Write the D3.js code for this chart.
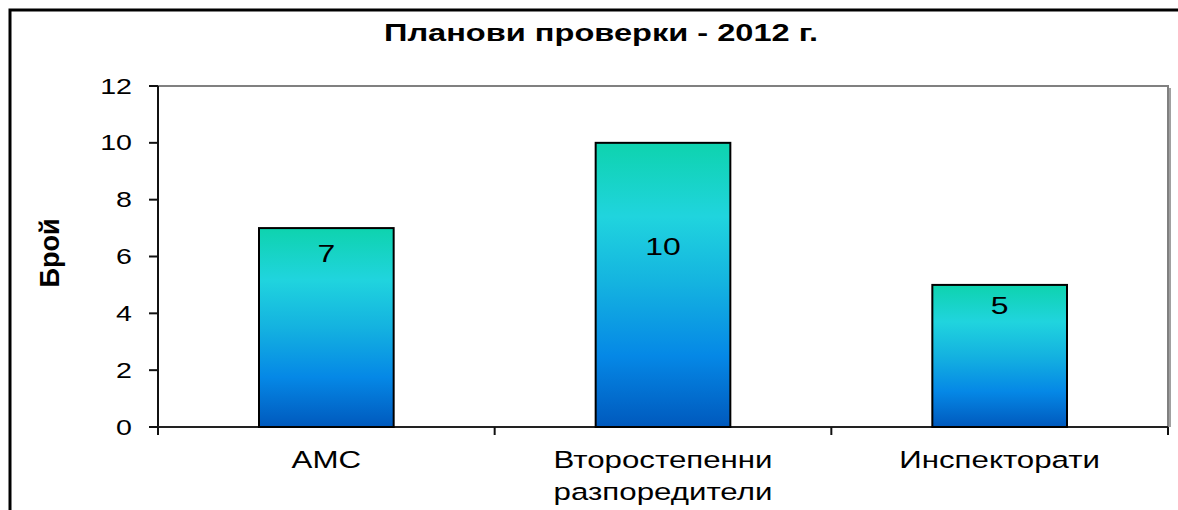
<!DOCTYPE html>
<html>
<head>
  <meta charset="UTF-8">
  <title>Планови проверки - 2012 г.</title>
  <script src="https://d3js.org/d3.v7.min.js"></script>
  <style>
    body { margin: 0; background: #fff; }
    svg { display: block; font-family: "Liberation Sans", Arial, sans-serif; }
  </style>
</head>
<body>
    <svg></svg>

    <script>
        // chart data
        const title = "Планови проверки - 2012 г.";
        const yTitle = "Брой";
        const categories = ["AMC", "Второстепенни разпоредители", "Инспекторати"];
        const categoryLines = [["АМС"], ["Второстепенни", "разпоредители"], ["Инспекторати"]];
        const values = [7, 10, 5];
        // where Excel left each value label, in axis units
        const labelLevels = [6.12, 6.37, 4.31];
        const yTicks = [0, 2, 4, 6, 8, 10, 12];

        let width = 1178, height = 510;
        let svg = d3.select("svg")
            .attr("width", width)
            .attr("height", height);

        let plot = {left: 158, right: 1168, top: 86, bottom: 427};
        const sx = 1.33; // the original is stretched sideways

        let defs = svg.append("defs");
        let grad = defs.append("linearGradient")
            .attr("id", "barFill")
            .attr("x1", 0).attr("y1", 0).attr("x2", 0).attr("y2", 1);
        [[0, "#0ed3ae"], [0.26, "#20d4de"], [0.5, "#14b2e0"], [0.75, "#0588e6"], [1, "#0059bd"]]
            .forEach(s => grad.append("stop").attr("offset", s[0]).attr("stop-color", s[1]));

        // outer frame
        svg.append("path")
            .attr("d", "M10," + height + "V10H" + width)
            .attr("fill", "none").attr("stroke", "#000").attr("stroke-width", 3);

        let x = d3.scaleBand()
            .domain(categories)
            .range([plot.left, plot.right])
            .paddingInner(0.6)
            .paddingOuter(0.3);

        let y = d3.scaleLinear()
            .domain([0, 12])
            .range([plot.bottom, plot.top]);

        // plot area border (top & right gray)
        svg.append("path")
            .attr("d", "M" + plot.left + "," + plot.top + "H" + plot.right + "V" + plot.bottom)
            .attr("fill", "none").attr("stroke", "#808080").attr("stroke-width", 2);
        svg.append("line")
            .attr("x1", plot.right + 2).attr("x2", plot.right + 2)
            .attr("y1", plot.top + 2).attr("y2", plot.bottom)
            .attr("stroke", "#a0a0a0").attr("stroke-width", 2);

        function stretched(sel, px, py) {
            return sel.attr("transform", "translate(" + px + "," + py + ") scale(" + sx + ",1)");
        }

        // y axis
        let yAxis = svg.append("g");
        yAxis.append("line")
            .attr("x1", plot.left).attr("x2", plot.left)
            .attr("y1", plot.top).attr("y2", plot.bottom + 8)
            .attr("stroke", "#111").attr("stroke-width", 2);
        yAxis.selectAll(".tick")
            .data(yTicks)
            .enter()
            .append("line")
            .attr("x1", plot.left - 9).attr("x2", plot.left)
            .attr("y1", d => y(d)).attr("y2", d => y(d))
            .attr("stroke", "#111").attr("stroke-width", 2);
        yAxis.selectAll("text")
            .data(yTicks)
            .enter()
            .append("text")
            .each(function(d) { stretched(d3.select(this), 132, y(d) + 7.5); })
            .attr("text-anchor", "end")
            .style("font-size", "21.5px")
            .text(d => d);

        // x axis
        let xAxis = svg.append("g");
        xAxis.append("line")
            .attr("x1", plot.left).attr("x2", plot.right)
            .attr("y1", plot.bottom).attr("y2", plot.bottom)
            .attr("stroke", "#222").attr("stroke-width", 2);
        let bounds = categories.map(c => x(c) - x.step() * x.paddingInner() / 2);
        bounds.push(plot.right);
        xAxis.selectAll(".tick")
            .data(bounds)
            .enter()
            .append("line")
            .attr("x1", d => d).attr("x2", d => d)
            .attr("y1", plot.bottom).attr("y2", plot.bottom + 8)
            .attr("stroke", "#111").attr("stroke-width", 2);

        let catLabel = xAxis.selectAll(".cat")
            .data(categories)
            .enter()
            .append("text")
            .attr("class", "cat")
            .each(function(d) { stretched(d3.select(this), x(d) + x.bandwidth() / 2, 0); })
            .attr("text-anchor", "middle")
            .style("font-size", "23.5px");
        catLabel.selectAll("tspan")
            .data((d, i) => categoryLines[i])
            .enter()
            .append("tspan")
            .attr("x", 0)
            .attr("y", (d, i) => 468 + i * 32)
            .text(d => d);

        // bars
        svg.append("g")
            .selectAll("rect")
            .data(values)
            .enter()
            .append("rect")
            .attr("x", (d, i) => x(categories[i]))
            .attr("y", d => y(d))
            .attr("width", x.bandwidth())
            .attr("height", d => y(0) - y(d))
            .attr("fill", "url(#barFill)")
            .attr("stroke", "#000")
            .attr("stroke-width", 2);

        svg.append("g")
            .selectAll("text")
            .data(values)
            .enter()
            .append("text")
            .each(function(d, i) {
                stretched(d3.select(this), x(categories[i]) + x.bandwidth() / 2, y(labelLevels[i]) + 9);
            })
            .attr("text-anchor", "middle")
            .style("font-size", "24px")
            .text(d => d);

        // titles
        stretched(svg.append("text"), 601, 41)
            .attr("text-anchor", "middle")
            .style("font-size", "24.5px").style("font-weight", "bold")
            .text(title);

        svg.append("text")
            .attr("transform", "translate(59,253) rotate(-90)")
            .attr("text-anchor", "middle")
            .style("font-size", "27px").style("font-weight", "bold")
            .text(yTitle);
    </script>

</body>
</html>
